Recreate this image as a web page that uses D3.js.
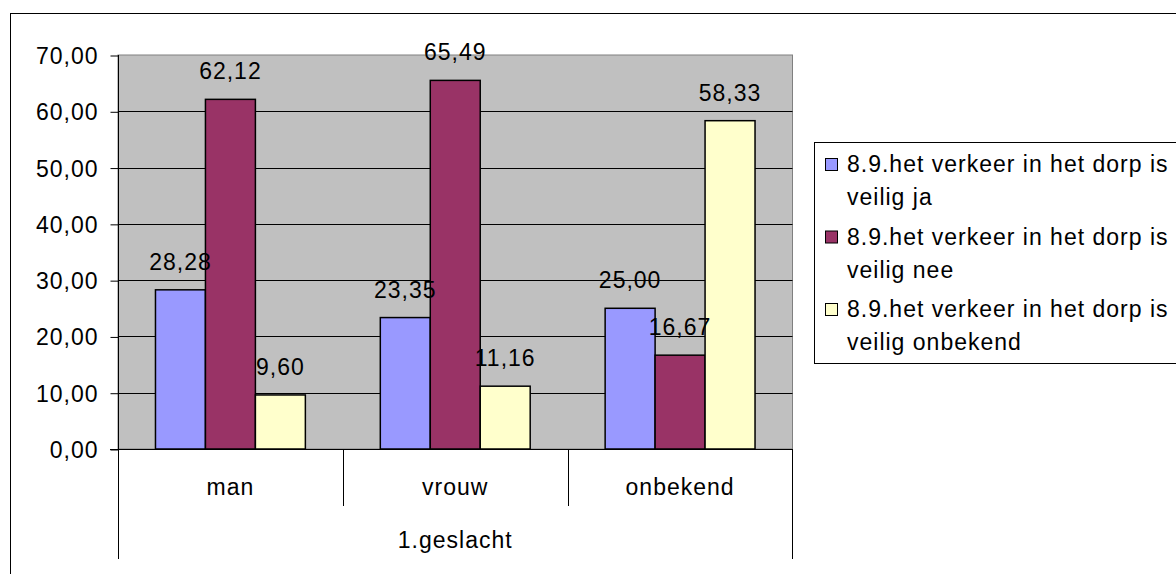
<!DOCTYPE html>
<html>
<head>
<meta charset="utf-8">
<script src="https://cdn.jsdelivr.net/npm/d3@7"></script>
<style>
  body { margin: 0; background: #fff; }
  svg { display: block; font-family: "Liberation Sans", Arial, sans-serif; }
  text { letter-spacing: 1px; }
</style>
</head>
<body>
<div id="chart"></div>
<script>
// data
var categories = ['man', 'vrouw', 'onbekend'];
var series_names = [
	'8.9.het verkeer in het dorp is veilig ja',
	'8.9.het verkeer in het dorp is veilig nee',
	'8.9.het verkeer in het dorp is veilig onbekend'
];
var legend_lines = [
	['8.9.het verkeer in het dorp is', 'veilig ja'],
	['8.9.het verkeer in het dorp is', 'veilig nee'],
	['8.9.het verkeer in het dorp is', 'veilig onbekend']
];
var veilig_ja = [28.28, 23.35, 25.00];
var veilig_nee = [62.12, 65.49, 16.67];
var veilig_onbekend = [9.60, 11.16, 58.33];
var y_ticks = [0, 10, 20, 30, 40, 50, 60, 70];
var axis_title = '1.geslacht';

var colors = ['#9999FF', '#993366', '#FFFFCC'];
var all_series = [veilig_ja, veilig_nee, veilig_onbekend];

var nl = d3.formatLocale({decimal: ',', thousands: '.', grouping: [3], currency: ['', '']});
var fmt = nl.format('.2f');

// chart
var W = 1176, H = 574, FS = 23;
var plot = {left: 118, right: 792.5, top: 55, bottom: 449};

var svg = d3.select('#chart').append('svg')
	.attr('width', W)
	.attr('height', H);

// outer chart border (runs off the right and bottom)
svg.append('rect')
	.attr('x', 10.5).attr('y', 13.5)
	.attr('width', W + 20).attr('height', H + 20)
	.attr('fill', '#fff')
	.attr('stroke', '#000');

var x0 = d3.scaleBand()
	.domain(categories)
	.range([plot.left, plot.right]);

var bw = x0.bandwidth();
var x1 = d3.scaleBand()
	.domain(d3.range(series_names.length))
	.range([bw * 0.75 / 4.5, bw - bw * 0.75 / 4.5]);

var y = d3.scaleLinear()
	.domain([0, 70])
	.range([plot.bottom, plot.top]);

// plot area
svg.append('rect')
	.attr('x', plot.left).attr('y', plot.top)
	.attr('width', plot.right - plot.left)
	.attr('height', plot.bottom - plot.top)
	.attr('fill', '#C0C0C0')
	.attr('stroke', '#808080');

// gridlines
svg.append('g')
	.selectAll('line')
	.data(y_ticks.filter(function(d) { return d > 0 && d < 70; }))
	.enter().append('line')
	  .attr('x1', plot.left).attr('x2', plot.right)
	  .attr('y1', function(d) { return Math.round(y(d)) + 0.5; })
	  .attr('y2', function(d) { return Math.round(y(d)) + 0.5; })
	  .attr('stroke', '#000');

// y axis
var yAxis = d3.axisLeft(y)
	.tickValues(y_ticks)
	.tickSize(8)
	.tickPadding(12)
	.tickFormat(fmt);

var gy = svg.append('g')
	.attr('transform', 'translate(' + (plot.left + 0.5) + ',0.5)')
	.call(yAxis);
gy.select('.domain').remove();
gy.selectAll('line').attr('stroke', '#000');
gy.selectAll('text')
	.attr('font-size', FS)
	.attr('font-family', '"Liberation Sans", Arial, sans-serif')
	.attr('fill', '#000')
	.attr('dy', '0.35em');

// bars
var groups = svg.append('g')
	.selectAll('g')
	.data(categories)
	.enter().append('g')
	  .attr('transform', function(d) { return 'translate(' + x0(d) + ',0)'; });

groups.selectAll('rect')
	.data(function(d, i) { return all_series.map(function(s, j) { return {s: j, v: s[i]}; }); })
	.enter().append('rect')
	  .attr('x', function(d) { return x1(d.s); })
	  .attr('y', function(d) { return y(d.v); })
	  .attr('width', x1.bandwidth())
	  .attr('height', function(d) { return y(0) - y(d.v); })
	  .attr('fill', function(d) { return colors[d.s]; })
	  .attr('stroke', '#000')
	  .attr('stroke-width', 1.5);

groups.selectAll('text.val')
	.data(function(d, i) { return all_series.map(function(s, j) { return {s: j, v: s[i]}; }); })
	.enter().append('text')
	  .attr('class', 'val')
	  .attr('x', function(d) { return x1(d.s) + x1.bandwidth() / 2; })
	  .attr('y', function(d) { return y(d.v) - 20; })
	  .attr('text-anchor', 'middle')
	  .attr('font-size', FS)
	  .text(function(d) { return fmt(d.v); });

// axes lines
svg.append('line')
	.attr('x1', plot.left + 0.5).attr('x2', plot.left + 0.5)
	.attr('y1', plot.top).attr('y2', 559)
	.attr('stroke', '#000');
svg.append('line')
	.attr('x1', plot.left - 8).attr('x2', plot.right)
	.attr('y1', plot.bottom + 0.5).attr('y2', plot.bottom + 0.5)
	.attr('stroke', '#000');

// category table lines
var dividers = categories.slice(1).map(function(c) { return x0(c); });
svg.append('g')
	.selectAll('line')
	.data(dividers)
	.enter().append('line')
	  .attr('x1', function(d) { return Math.round(d) + 0.5; })
	  .attr('x2', function(d) { return Math.round(d) + 0.5; })
	  .attr('y1', plot.bottom).attr('y2', 506)
	  .attr('stroke', '#000');
svg.append('line')
	.attr('x1', plot.right).attr('x2', plot.right)
	.attr('y1', plot.bottom).attr('y2', 559)
	.attr('stroke', '#000');

svg.append('g')
	.selectAll('text')
	.data(categories)
	.enter().append('text')
	  .attr('x', function(d) { return x0(d) + bw / 2; })
	  .attr('y', 495)
	  .attr('text-anchor', 'middle')
	  .attr('font-size', FS)
	  .text(function(d) { return d; });

svg.append('text')
	.attr('x', (plot.left + plot.right) / 2)
	.attr('y', 548)
	.attr('text-anchor', 'middle')
	.attr('font-size', FS)
	.text(axis_title);

// legend
var legend = svg.append('g');
legend.append('rect')
	.attr('x', 814.5).attr('y', 142.5)
	.attr('width', 400).attr('height', 221)
	.attr('fill', '#fff')
	.attr('stroke', '#000');

var item = legend.selectAll('g.item')
	.data(legend_lines)
	.enter().append('g')
	  .attr('class', 'item')
	  .attr('transform', function(d, i) { return 'translate(0,' + (i * 72.5) + ')'; });

item.append('rect')
	.attr('x', 825.5).attr('y', 158.5)
	.attr('width', 12).attr('height', 12)
	.attr('fill', function(d, i) { return colors[i]; })
	.attr('stroke', '#000');

item.selectAll('text')
	.data(function(d) { return d; })
	.enter().append('text')
	  .attr('x', 847)
	  .attr('y', function(d, j) { return 172 + j * 33; })
	  .attr('font-size', FS)
	  .text(function(d) { return d; });
</script>
</body>
</html>
